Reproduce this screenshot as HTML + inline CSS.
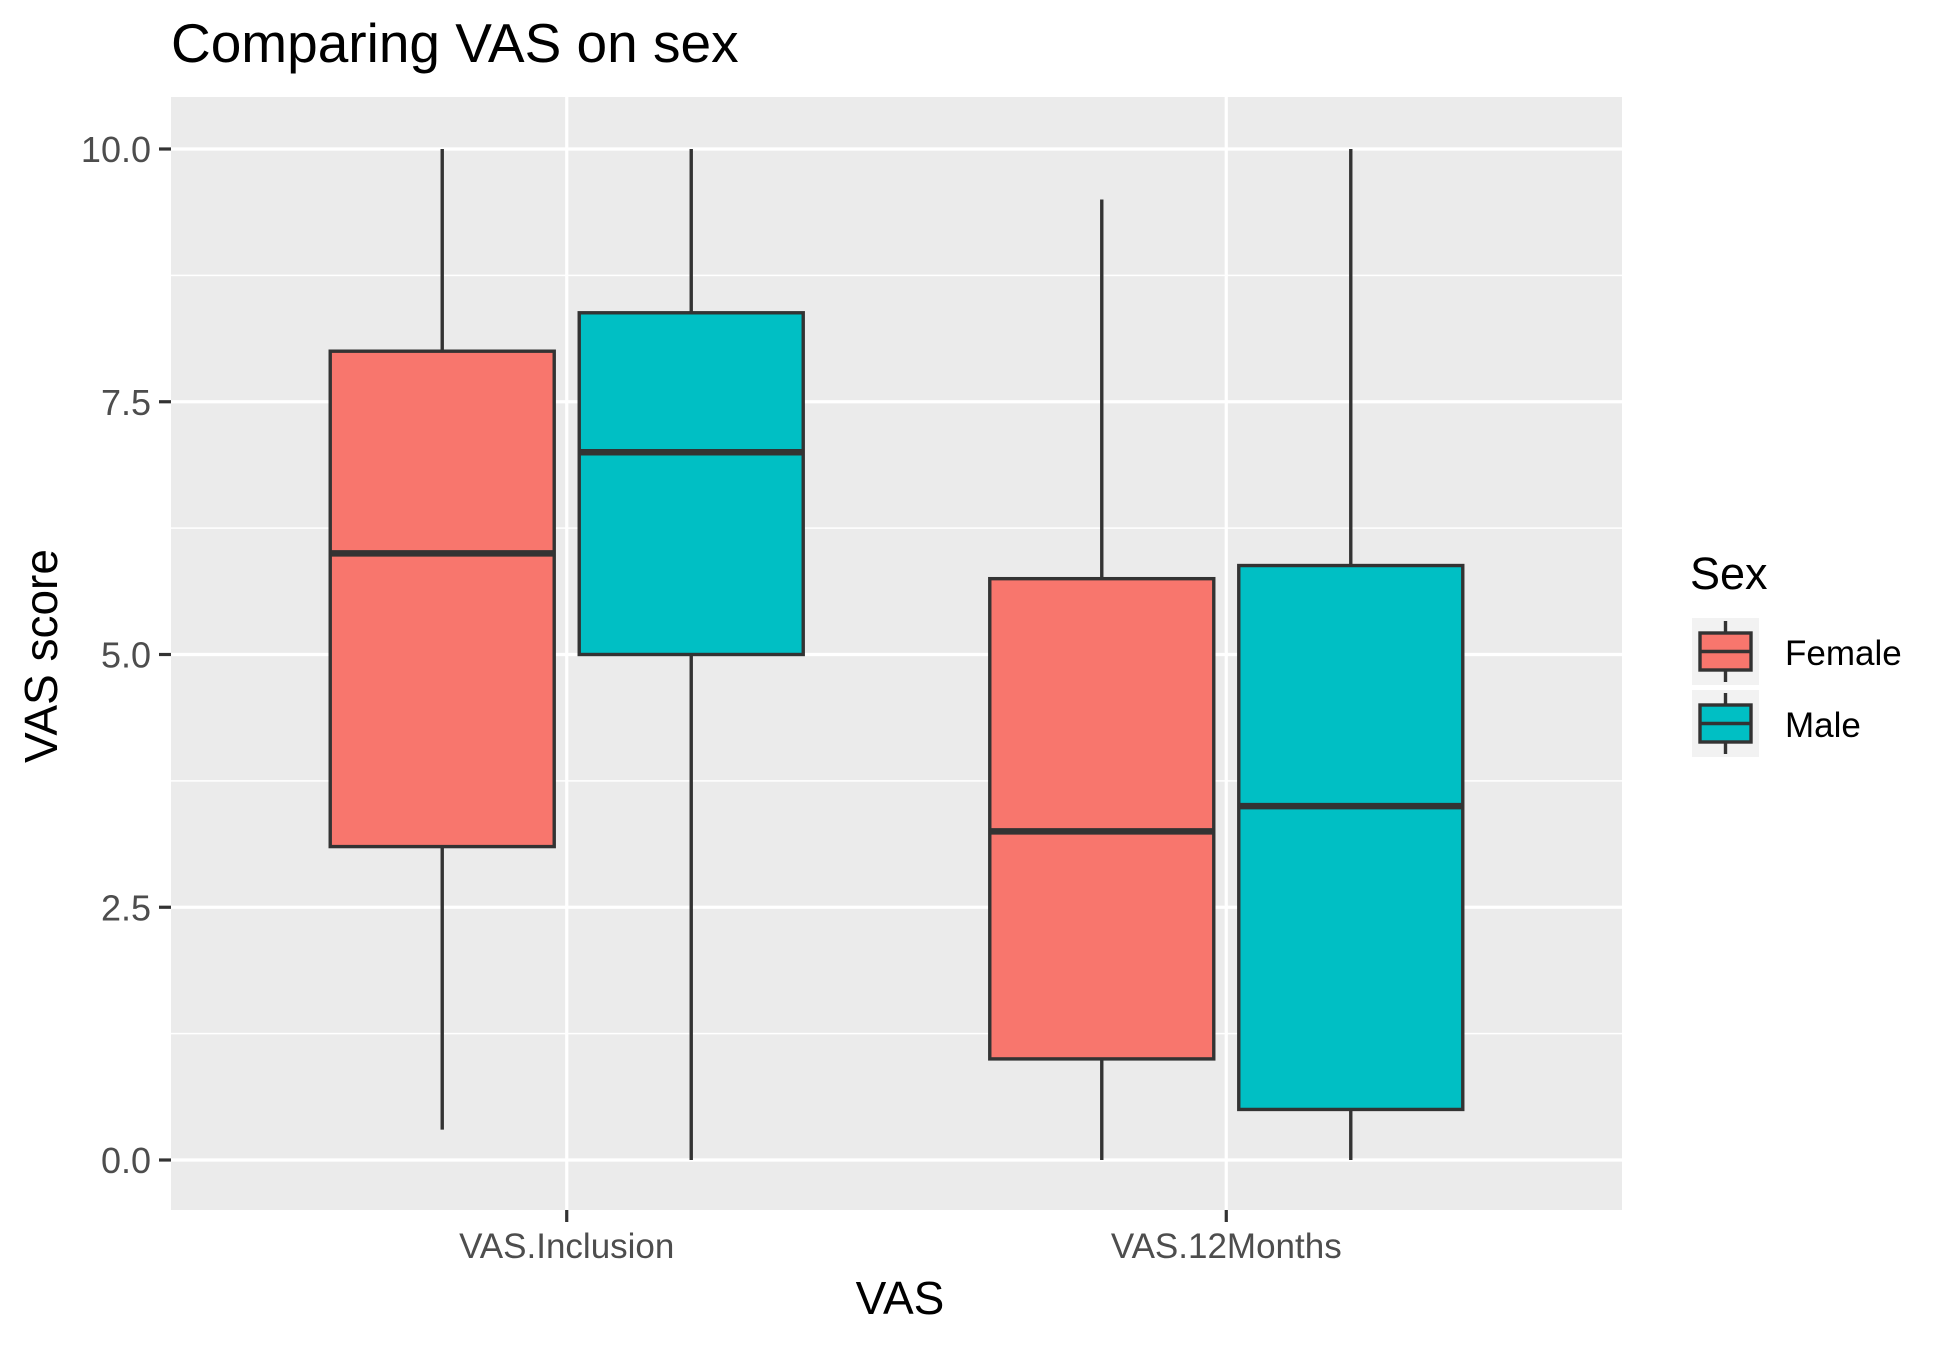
<!DOCTYPE html>
<html><head><meta charset="utf-8"><style>
body{margin:0;background:#fff}
svg text{font-family:"Liberation Sans",Arial,sans-serif}
</style></head><body>
<svg id="chart" width="1950" height="1349" xmlns="http://www.w3.org/2000/svg">
<rect width="1950" height="1349" fill="#fff"/>
<text x="171" y="62" font-size="55" fill="#000">Comparing VAS on sex</text>
<rect x="171" y="97" width="1451" height="1113" fill="#ebebeb"/>
<g id="grid"></g>
<g id="boxes"></g>
<g id="axes"></g>
<text x="900" y="1314" font-size="46" text-anchor="middle">VAS</text>
<text transform="translate(57,656) rotate(-90)" font-size="46" text-anchor="middle">VAS score</text>
<text x="1690" y="589" font-size="45">Sex</text>
<g id="legend"></g>
</svg>
<script>
const categories=["VAS.Inclusion","VAS.12Months"];
const groups=["Female","Male"];
const colors=["#f8766d","#00bfc4"];
const femaleStats=[[0.3,3.1,6.0,8.0,10],[0,1.0,3.25,5.75,9.5]];
const maleStats=[[0,5.0,7.0,8.38,10],[0,0.5,3.5,5.88,10]];
const yTicks=[0,2.5,5,7.5,10];
const yTickLabels=["0.0","2.5","5.0","7.5","10.0"];
const NS="http://www.w3.org/2000/svg";
function mk(t,a,p){const e=document.createElementNS(NS,t);for(const k in a)e.setAttribute(k,a[k]);p.appendChild(e);return e;}
const y0=1160,y10=149;
function ys(v){return y0+(y10-y0)*v/10;}
const xL=171,xR=1622;
function xc(i){const step=(xR-xL)/(categories.length-1+1.2);return xL+step*(0.6+i);}
const grid=document.getElementById('grid');
for(let k=0;k<yTicks.length-1;k++){const v=(yTicks[k]+yTicks[k+1])/2;
const l=mk('line',{x1:xL,x2:xR,y1:ys(v),y2:ys(v),stroke:'#fff','stroke-width':1.6},grid);

}
const ax=document.getElementById('axes');
yTicks.forEach((v,k)=>{
const l=mk('line',{x1:xL,x2:xR,y1:ys(v),y2:ys(v),stroke:'#fff','stroke-width':3.2},grid);


mk('line',{x1:159,x2:171,y1:ys(v),y2:ys(v),stroke:'#333','stroke-width':3.2},ax);
const t=mk('text',{x:151,y:ys(v)+13,'font-size':36,'text-anchor':'end',fill:'#4d4d4d'},ax);
t.textContent=yTickLabels[k];

});
categories.forEach((c,i)=>{const x=xc(i);
const l=mk('line',{x1:x,x2:x,y1:97,y2:1210,stroke:'#fff','stroke-width':3.2},grid);


mk('line',{x1:x,x2:x,y1:1210,y2:1222,stroke:'#333','stroke-width':3.2},ax);
const t=mk('text',{x:x,y:1258,'font-size':35,'text-anchor':'middle',fill:'#4d4d4d'},ax);
t.textContent=c;

});
const bx=document.getElementById('boxes');
const allStats=[femaleStats,maleStats];
const bw=224,off=124.5;
categories.forEach((c,i)=>{groups.forEach((g,j)=>{
const s=allStats[j][i];const cx=xc(i)+(j===0?-off:off);
const grp=mk('g',{},bx);


mk('line',{x1:cx,x2:cx,y1:ys(s[0]),y2:ys(s[1]),stroke:'#333','stroke-width':3.4},grp);
mk('line',{x1:cx,x2:cx,y1:ys(s[3]),y2:ys(s[4]),stroke:'#333','stroke-width':3.4},grp);
mk('rect',{x:cx-bw/2,y:ys(s[3]),width:bw,height:ys(s[1])-ys(s[3]),fill:colors[j],stroke:'#333','stroke-width':3.4},grp);
mk('line',{x1:cx-bw/2,x2:cx+bw/2,y1:ys(s[2]),y2:ys(s[2]),stroke:'#333','stroke-width':6.5},grp);
});});
const lg=document.getElementById('legend');
groups.forEach((g,j)=>{const y=618+j*72;
const grp=mk('g',{},lg);


mk('rect',{x:1692,y:y,width:67,height:67,fill:'#f2f2f2'},grp);
mk('line',{x1:1725.5,x2:1725.5,y1:y+3,y2:y+64,stroke:'#333','stroke-width':3.4},grp);
mk('rect',{x:1700,y:y+15,width:51,height:37,fill:colors[j],stroke:'#333','stroke-width':3.4},grp);
mk('line',{x1:1700,x2:1751,y1:y+33.5,y2:y+33.5,stroke:'#333','stroke-width':3.4},grp);
const t=mk('text',{x:1785,y:y+47,'font-size':35},grp);t.textContent=g;});
</script>
</body></html>
